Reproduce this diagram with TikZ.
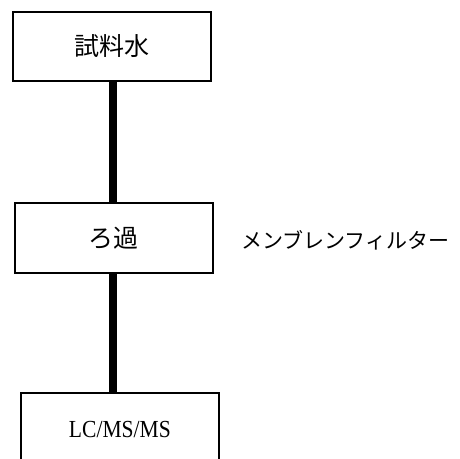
\documentclass[tikz,border=0pt]{standalone}
\usepackage{fontspec}
\newfontfamily\jpfont{Noto Sans CJK JP}
\newfontfamily\lcfont[FakeStretch=0.88]{Liberation Serif}
\begin{document}
\begin{tikzpicture}[x=1pt,y=-1pt,
  procbox/.style={draw=black, line width=1.6pt, fill=white, inner sep=0pt, minimum width=198pt},
  conn/.style={line width=8pt, black},
  boxtext/.style={font=\jpfont\fontsize{25}{29}\selectfont},
  note/.style={font=\jpfont\fontsize{21}{25}\selectfont}
]
\useasboundingbox[fill=white] (0,0) rectangle (460,458);
\coordinate (cx) at (113,0);
\node[procbox, minimum height=68.7pt, boxtext] (top) at (111.7,46.4) {試料水};
\node[procbox, minimum height=70pt, boxtext] (mid) at (113.7,238) {ろ過};
\node[procbox, minimum height=74pt, font=\lcfont\fontsize{24.5}{28}\selectfont] (bot) at (119.9,430) {LC/MS/MS};
\node[note, anchor=west, inner sep=0pt] (filt) at (241,240) {メンブレンフィルター};
\draw[conn] (top.south -| cx) -- (mid.north -| cx);
\draw[conn] (mid.south -| cx) -- (bot.north -| cx);
\end{tikzpicture}
\end{document}
